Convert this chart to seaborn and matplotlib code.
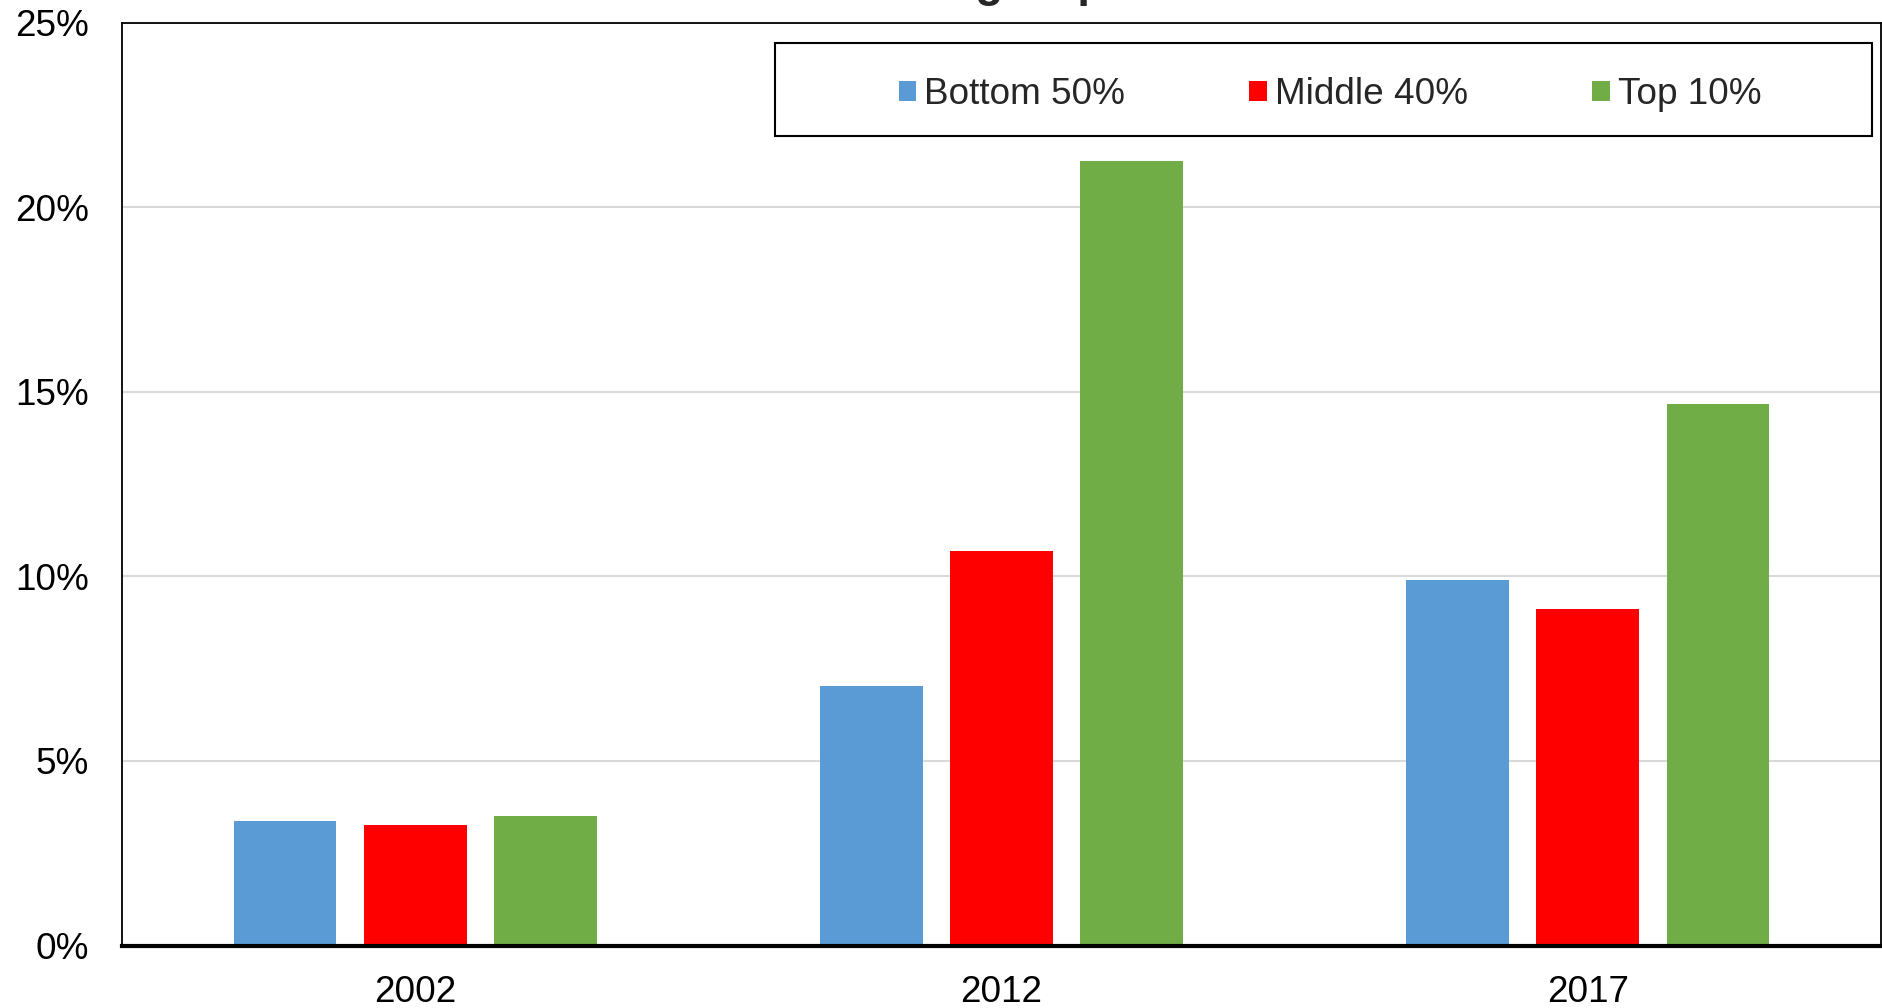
import matplotlib
matplotlib.use("Agg")
import matplotlib.pyplot as plt
from matplotlib.patches import Rectangle
import seaborn as sns
import pandas as pd

years = ["2002", "2012", "2017"]
groups = ["Bottom 50%", "Middle 40%", "Top 10%"]
bottom_50 = [3.37, 7.04, 9.91]
middle_40 = [3.26, 10.68, 9.13]
top_10 = [3.50, 21.26, 14.68]
ytick_vals = [0, 5, 10, 15, 20, 25]
ytick_labels = ["0%", "5%", "10%", "15%", "20%", "25%"]
colors = ["#5B9BD5", "#FF0000", "#70AD47"]

df = pd.DataFrame({
    "year": years * 3,
    "group": [g for g in groups for _ in years],
    "value": bottom_50 + middle_40 + top_10,
})

sns.set_style("white")
plt.rcParams["font.family"] = ["Liberation Sans", "DejaVu Sans"]

fig = plt.figure(figsize=(18.83, 10.08), dpi=100)
ax = fig.add_axes([0.0648, 0.062, 0.9341, 0.9152])

sns.barplot(data=df, x="year", y="value", hue="group", order=years,
            hue_order=groups, palette=colors, width=0.666, gap=0.21,
            saturation=1, edgecolor="none", ax=ax)

ax.set_ylim(0, 25)
ax.set_yticks(ytick_vals)
ax.set_yticklabels(ytick_labels)
ax.set_xlim(-0.5, 2.5)
ax.set_xlabel("")
ax.set_ylabel("")
ax.yaxis.grid(True, color="#d9d9d9", lw=1.5)
ax.set_axisbelow(True)
ax.tick_params(axis="both", length=0, labelsize=26.6, colors="black")
ax.tick_params(axis="y", pad=24)
ax.tick_params(axis="x", pad=21)

for side in ["top", "right", "left"]:
    ax.spines[side].set_color("black")
    ax.spines[side].set_linewidth(1.3)
ax.spines["bottom"].set_color("black")
ax.spines["bottom"].set_linewidth(3)

# legend: no frame from matplotlib, box drawn separately
handles, labels = ax.get_legend_handles_labels()
ax.get_legend().remove()
ax.add_patch(Rectangle((0.3714, 0.8776), 0.6234, 0.1007, transform=ax.transAxes,
                       fill=False, ec="black", lw=1.5, zorder=5))
ax.legend(handles, labels, loc="center", bbox_to_anchor=(0.6868, 0.9225),
          ncol=3, frameon=False, fontsize=26.6, handlelength=0.48,
          handleheight=0.48, handletextpad=0.22, columnspacing=3.35)

# title sits mostly above the image, only descenders show
fig.text(0.432, 1.0037, "Wealth group", fontsize=33, fontweight="bold",
         ha="left", va="baseline")

fig.savefig("out.png", dpi=100)
